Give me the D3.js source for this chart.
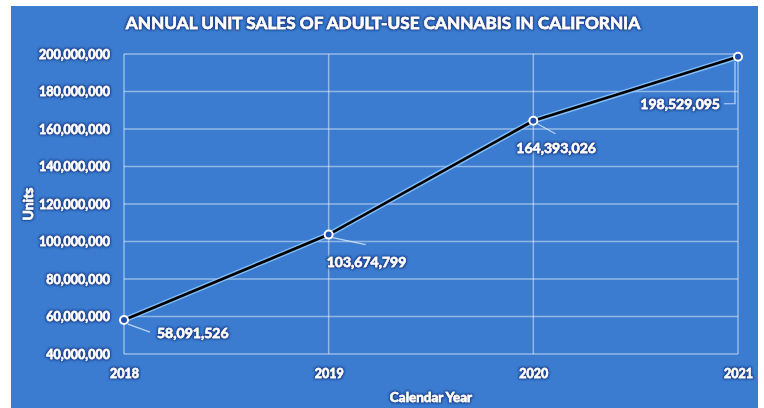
<!DOCTYPE html>
<html>
<head>
<meta charset="utf-8">
<script src="https://cdn.jsdelivr.net/npm/d3@7"></script>
<style>
  html, body { margin:0; padding:0; background:#fff; }
  svg text { font-family: Lato, "Open Sans", sans-serif; font-weight:700; fill:#fff;
             stroke:#fff; stroke-width:0.45px; filter:url(#glow); }
</style>
</head>
<body>
<svg id="chart" width="764" height="408"></svg>
<script>
// Годы и продажи (единицы)
const years  = [2018, 2019, 2020, 2021];
const units  = [58091526, 103674799, 164393026, 198529095];
const yTicks = [40e6, 60e6, 80e6, 100e6, 120e6, 140e6, 160e6, 180e6, 200e6];
// смещения подписей значений относительно точки
const labelPos = [
  {dx: 33, dy: 12, anchor:'start', leader:[[4,4],[26,12]]},
  {dx: -2, dy: 27, anchor:'start', leader:[[4,3],[37,10]]},
  {dx: -17, dy: 27, anchor:'start', leader:[[4,3],[22,13]]},
  {dx: -18, dy: 47, anchor:'end',  leader:[[-3,5],[-3,47],[-14,47]]},
];

const W = 764, H = 408;
const M = {left:124, right:738, top:54, bottom:354};

const svg = d3.select('#chart');

// тёмно-синее свечение вокруг текста
const f = svg.append('defs').append('filter').attr('id', 'glow')
  .attr('x', '-10%').attr('y', '-30%').attr('width', '120%').attr('height', '160%');
f.append('feMorphology').attr('in', 'SourceAlpha').attr('operator', 'dilate').attr('radius', 1.3).attr('result', 'd');
f.append('feGaussianBlur').attr('in', 'd').attr('stdDeviation', 0.8).attr('result', 'b');
f.append('feFlood').attr('flood-color', '#17408f').attr('result', 'c');
f.append('feComposite').attr('in', 'c').attr('in2', 'b').attr('operator', 'in').attr('result', 'g');
const fm = f.append('feMerge');
fm.append('feMergeNode').attr('in', 'g');
fm.append('feMergeNode').attr('in', 'SourceGraphic');

// фон
svg.append('rect').attr('x', 11).attr('y', 6).attr('width', 747).attr('height', H - 6)
  .attr('fill', '#3b7cd0');

const x = d3.scalePoint().domain(years).range([M.left, M.right]);
const y = d3.scaleLinear().domain([40e6, 200e6]).range([M.bottom, M.top]);

const grid = svg.append('g').attr('stroke', 'rgba(255,255,255,0.45)').attr('stroke-width', 1.5);
grid.selectAll('.h').data(yTicks).join('line')
  .attr('x1', M.left).attr('x2', M.right)
  .attr('y1', d => y(d)).attr('y2', d => y(d));
grid.selectAll('.v').data(years).join('line')
  .attr('x1', d => x(d)).attr('x2', d => x(d))
  .attr('y1', M.top).attr('y2', M.bottom);

// оси
const fmt = d3.format(',');
const yAxis = svg.append('g').attr('transform', `translate(${M.left},0)`)
  .call(d3.axisLeft(y).tickValues(yTicks).tickFormat(fmt).tickSize(0).tickPadding(14));
yAxis.select('.domain').remove();
yAxis.selectAll('text').attr('font-size', 12.5).attr('fill', '#fff')
  .style('font-family', 'Lato, sans-serif');

const xAxis = svg.append('g').attr('transform', `translate(0,${M.bottom})`)
  .call(d3.axisBottom(x).tickSize(0).tickPadding(15));
xAxis.select('.domain').remove();
xAxis.selectAll('text').attr('font-size', 12.5).attr('fill', '#fff')
  .style('font-family', 'Lato, sans-serif');

// линия
const pts = years.map((yr, i) => [x(yr), y(units[i])]);
const line = d3.line();
svg.append('path').attr('d', line(pts)).attr('fill', 'none')
  .attr('stroke', '#8fcaff').attr('stroke-width', 5.5).attr('stroke-opacity', 0.85);
svg.append('path').attr('d', line(pts)).attr('fill', 'none')
  .attr('stroke', '#000').attr('stroke-width', 2.8);

// выноски и подписи
const lbl = svg.append('g');
pts.forEach((p, i) => {
  const L = labelPos[i];
  lbl.append('path')
    .attr('d', d3.line()(L.leader.map(q => [p[0] + q[0], p[1] + q[1]])))
    .attr('fill', 'none').attr('stroke', 'rgba(220,235,255,0.8)').attr('stroke-width', 1.2);
  lbl.append('text')
    .attr('x', p[0] + L.dx).attr('y', p[1] + L.dy)
    .attr('text-anchor', L.anchor).attr('dominant-baseline', 'central')
    .attr('font-size', 14).text(fmt(units[i]));
});

svg.append('g').selectAll('circle').data(pts).join('circle')
  .attr('cx', d => d[0]).attr('cy', d => d[1]).attr('r', 4)
  .attr('fill', '#1f4fb0').attr('stroke', '#fff').attr('stroke-width', 2);

// заголовки
svg.append('text').attr('x', 383).attr('y', 22).attr('text-anchor', 'middle')
  .attr('dominant-baseline', 'central').attr('font-size', 17.2)
  .text('ANNUAL UNIT SALES OF ADULT-USE CANNABIS IN CALIFORNIA');
svg.append('text').attr('x', 431).attr('y', 397).attr('text-anchor', 'middle')
  .attr('dominant-baseline', 'central').attr('font-size', 13.5).text('Calendar Year');
svg.append('text').attr('transform', `translate(27,${(M.top + M.bottom) / 2}) rotate(-90)`)
  .attr('text-anchor', 'middle').attr('dominant-baseline', 'central')
  .attr('font-size', 14).text('Units');
</script>
</body>
</html>
